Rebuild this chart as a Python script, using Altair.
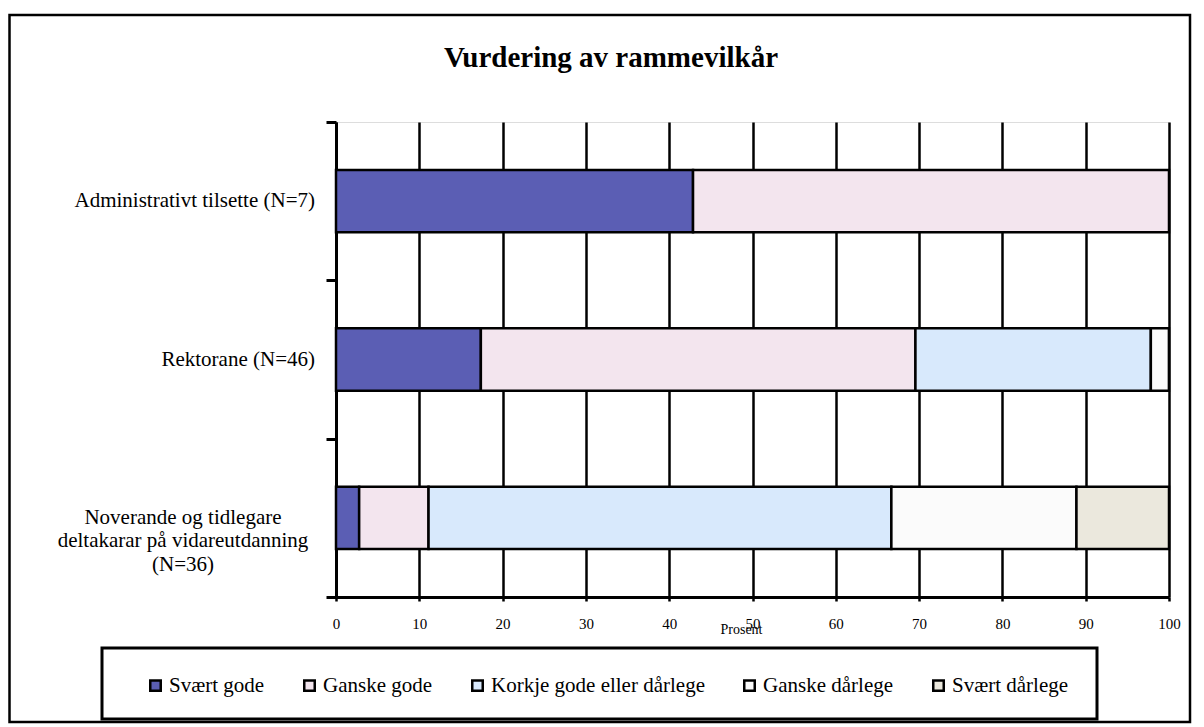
import altair as alt
import pandas as pd

title_text = "Vurdering av rammevilkår"
categories = [
    "Administrativt tilsette (N=7)",
    "Rektorane (N=46)",
    "Noverande og tidlegare\ndeltakarar på vidareutdanning\n(N=36)",
]
series = ["Svært gode", "Ganske gode", "Korkje gode eller dårlege", "Ganske dårlege", "Svært dårlege"]
svaert_gode = [42.86, 17.39, 2.78]
ganske_gode = [57.14, 52.17, 8.33]
korkje = [0.0, 28.26, 55.56]
ganske_daarlege = [0.0, 2.17, 22.22]
svaert_daarlege = [0.0, 0.0, 11.11]
colors = ["#5b5eb4", "#f3e5ee", "#d8e9fc", "#fbfbfb", "#ebe8dd"]
x_ticks = [0, 10, 20, 30, 40, 50, 60, 70, 80, 90, 100]

rows = []
for si, (name, vals) in enumerate(zip(series, [svaert_gode, ganske_gode, korkje, ganske_daarlege, svaert_daarlege])):
    for ci, cat in enumerate(categories):
        rows.append({"cat": cat, "series": name, "order": si, "value": vals[ci]})
df = pd.DataFrame(rows)
cats_df = pd.DataFrame({"cat": categories})

FONT = "Liberation Serif"
W, H = 833, 475

y_enc = alt.Y("cat:N", sort=categories,
              scale=alt.Scale(paddingInner=0, paddingOuter=0),
              axis=alt.Axis(title=None, labels=False, tickBand="extent", domainColor="black",
                            domainWidth=3, tickColor="black", tickWidth=3, tickSize=10, grid=False))

bars = alt.Chart(df).transform_filter("datum.value > 0").mark_bar(
    stroke="black", strokeWidth=2.5, height=alt.RelativeBandSize(band=0.394)
).encode(
    x=alt.X("value:Q", stack="zero",
            scale=alt.Scale(domain=[0, 100], nice=False),
            axis=alt.Axis(values=x_ticks, title="Prosent", grid=True, gridColor="black", gridWidth=2.5,
                          gridOpacity=1, domainColor="black", domainWidth=3, tickColor="black",
                          tickWidth=2.5, tickSize=4, labelFont=FONT, labelFontSize=15, labelColor="black",
                          labelPadding=15, labelFlush=False, labelOverlap=False,
                          titleFont=FONT, titleFontSize=14, titleFontWeight="normal",
                          titleColor="black", titleY=32, titleX=405, titleBaseline="middle")),
    y=y_enc,
    color=alt.Color("series:N", sort=series,
                    scale=alt.Scale(domain=series, range=colors),
                    legend=alt.Legend(title=None, orient="none", legendX=-191, legendY=553,
                                      direction="horizontal", columns=5, columnPadding=34,
                                      symbolType="square", symbolSize=110, symbolStrokeColor="black",
                                      symbolStrokeWidth=2.5, labelFont=FONT, labelFontSize=21,
                                      labelColor="black", labelOffset=3, labelLimit=400)),
    order=alt.Order("order:Q"),
)

labels_single = alt.Chart(cats_df).transform_filter("indexof(datum.cat, '\\n') < 0").mark_text(
    align="right", baseline="middle", font=FONT, fontSize=21, color="black"
).encode(y=y_enc, x=alt.value(-21), text="cat:N")

labels_multi = alt.Chart(cats_df).transform_filter("indexof(datum.cat, '\\n') >= 0").mark_text(
    align="center", baseline="middle", font=FONT, fontSize=21, color="black",
    lineBreak="\n", lineHeight=23.5
).encode(y=y_enc, x=alt.value(-153), text="cat:N")

one = pd.DataFrame({"k": [0]})
title_mark = alt.Chart(one).mark_text(
    text=title_text, font=FONT, fontSize=29, fontWeight="bold", color="black",
    align="center", baseline="middle"
).encode(x=alt.value(275), y=alt.value(-64))
frame = alt.Chart(one).mark_rect(fillOpacity=0, stroke="black", strokeWidth=2.5, clip=False).encode(
    x=alt.value(-326.5), x2=alt.value(854), y=alt.value(-107), y2=alt.value(600)
)
legend_box = alt.Chart(one).mark_rect(fillOpacity=0, stroke="black", strokeWidth=3, clip=False).encode(
    x=alt.value(-234), x2=alt.value(761), y=alt.value(526), y2=alt.value(597)
)

chart = alt.layer(bars, labels_single, labels_multi, title_mark, frame, legend_box).properties(
    width=W, height=H,
    padding={"left": 0, "top": 5, "right": 0, "bottom": 0},
).configure_view(stroke="#808080", strokeWidth=3).configure(background="white")

chart.save("out.html", embed_options={"renderer": "svg", "actions": False})
